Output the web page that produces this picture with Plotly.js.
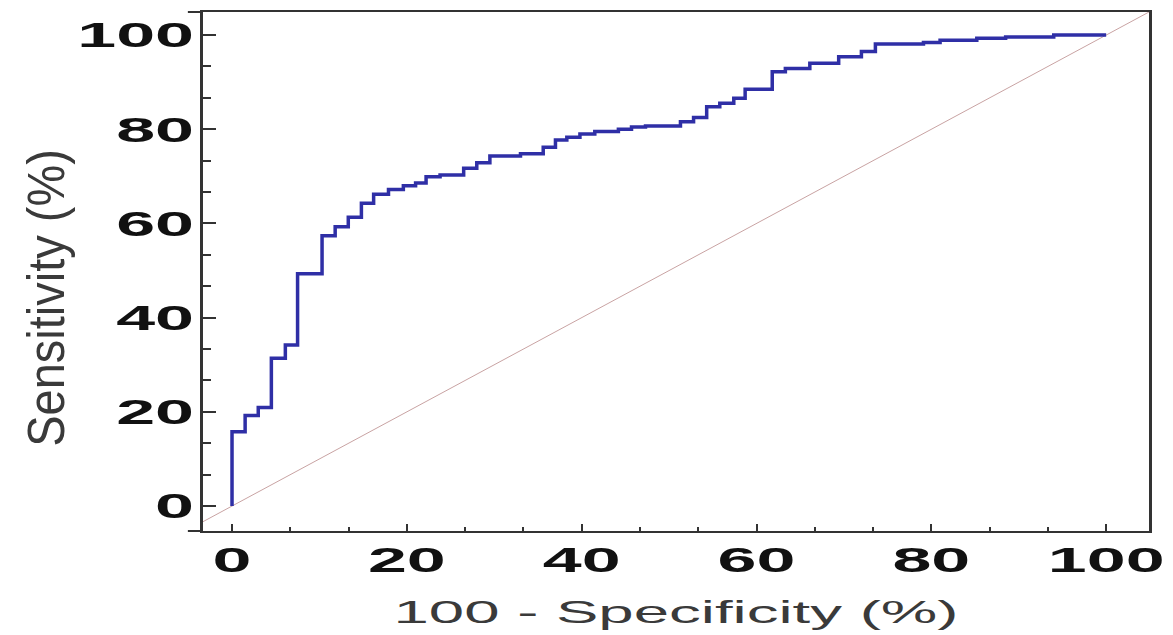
<!DOCTYPE html>
<html>
<head>
<meta charset="utf-8">
<script src="https://cdn.plot.ly/plotly-3.0.1.min.js"></script>
<style>
  html, body { margin: 0; padding: 0; background: #ffffff; }
  #chart { width: 1173px; height: 635px; }
</style>
</head>
<body>
<div id="chart"></div>
<script>
// ROC curve step corners: x = 100 - specificity (%), y = sensitivity (%)
const fpr = [0, 0, 1.5, 3.0, 4.5, 6.1, 7.5, 10.3, 11.8, 13.3, 14.8, 16.2, 17.9, 19.6, 21.0, 22.2,
             23.8, 26.5, 28.0, 29.5, 33.0, 35.6, 37.0, 38.3, 39.8, 41.5, 44.2, 45.7, 47.3, 51.3,
             52.8, 54.3, 55.8, 57.4, 58.7, 61.8, 63.3, 66.1, 69.4, 72.0, 73.6, 79.1, 81.0, 85.2,
             88.5, 94.0, 100];
const tpr = [0, 15.8, 19.2, 20.9, 31.4, 34.2, 49.3, 57.4, 59.3, 61.3, 64.3, 66.2, 67.2, 68.0, 68.6, 69.9,
             70.3, 71.7, 72.9, 74.3, 74.8, 76.2, 77.7, 78.3, 79.0, 79.5, 80.0, 80.5, 80.7, 81.6,
             82.5, 84.8, 85.5, 86.6, 88.5, 92.2, 92.9, 94.0, 95.4, 96.5, 98.1, 98.4, 98.9, 99.3,
             99.6, 100, 100];
// Reference (chance) line
const refX = [-10, 110];
const refY = [-10, 110];
// Axis labels
const xTitle = '100 - Specificity (%)';
const yTitle = 'Sensitivity (%)';

const tickFont = { family: 'Liberation Sans, Arial, sans-serif', size: 35, weight: 'bold', color: '#111111' };
const titleFont = { family: 'Liberation Sans, Arial, sans-serif', size: 31, color: '#3a3a3a' };

const data = [
  { x: refX, y: refY, type: 'scatter', mode: 'lines',
    line: { color: '#c9a3a3', width: 1 }, hoverinfo: 'skip' },
  { x: fpr, y: tpr, type: 'scatter', mode: 'lines',
    line: { color: '#2f2fa6', width: 3.5, shape: 'hv' } }
];

const layout = {
  width: 1173, height: 635,
  margin: { l: 203, r: 24, t: 12, b: 104, pad: 0 },
  paper_bgcolor: '#ffffff', plot_bgcolor: '#ffffff',
  showlegend: false,
  xaxis: {
    range: [-3.32, 104.9], tickmode: 'linear', tick0: 0, dtick: 20,
    ticks: 'inside', ticklen: 7, tickwidth: 2, tickcolor: '#333333',
    showline: true, mirror: true, linewidth: 2, linecolor: '#333333',
    showgrid: false, zeroline: false, tickfont: tickFont,
    ticklabelstandoff: -3,
    minor: { dtick: 20 / 3, ticks: 'inside', ticklen: 4, tickwidth: 2, tickcolor: '#333333', showgrid: false },
    title: { text: xTitle, font: titleFont, standoff: 23 }
  },
  yaxis: {
    range: [-5.3, 104.9], tickmode: 'linear', tick0: 0, dtick: 20,
    ticks: 'inside', ticklen: 13, tickwidth: 2, tickcolor: '#333333',
    showline: true, mirror: true, linewidth: 3, linecolor: '#333333',
    showgrid: false, zeroline: false, tickfont: tickFont,
    ticklabelstandoff: -1,
    minor: { dtick: 20 / 3, ticks: 'inside', ticklen: 8, tickwidth: 2, tickcolor: '#333333', showgrid: false },
    title: { text: yTitle, font: { family: 'Liberation Sans, Arial, sans-serif', size: 47, color: '#3a3a3a' }, standoff: 20 }
  },
  shapes: [
    { type: 'line', xref: 'paper', yref: 'paper', x0: -0.016, x1: 0, y0: 0, y1: 0,
      line: { color: '#333333', width: 2 } },
    { type: 'line', xref: 'paper', yref: 'paper', x0: -0.016, x1: 0, y0: 1, y1: 1,
      line: { color: '#333333', width: 2 } }
  ]
};

// widen text horizontally (the reference picture is horizontally stretched)
function stretch(selector, s, anchor) {
  document.querySelectorAll(selector).forEach(function (t) {
    const b = t.getBBox();
    const ax = anchor === 'end' ? b.x + b.width : b.x + b.width / 2;
    const prev = t.getAttribute('transform') || '';
    t.setAttribute('transform', prev + ' translate(' + ax + ',0) scale(' + s + ',1) translate(' + (-ax) + ',0)');
  });
}
// place the rotated y title at a screen position and widen it
function placeRotated(selector, s, cxTarget, cyTarget) {
  document.querySelectorAll(selector).forEach(function (t) {
    const b = t.getBBox();
    const cy = b.y + b.height / 2;
    const prev = t.getAttribute('transform') || '';
    t.setAttribute('transform', prev + ' translate(0,' + cy + ') scale(1,' + s + ') translate(0,' + (-cy) + ')');
    const svg = t.ownerSVGElement.getBoundingClientRect();
    const r = t.getBoundingClientRect();
    const dx = cxTarget - (r.left - svg.left + r.width / 2);
    const dy = cyTarget - (r.top - svg.top + r.height / 2);
    t.setAttribute('transform', 'translate(' + dx + ',' + dy + ') ' + t.getAttribute('transform'));
  });
}

Plotly.newPlot('chart', data, layout, { staticPlot: true, displayModeBar: false }).then(function () {
  stretch('.xtick text', 2.0, 'center');
  stretch('.ytick text', 2.0, 'end');
  stretch('.g-xtitle text', 2.05, 'center');
  placeRotated('.g-ytitle text', 1.1, 46, 298);
});
</script>
</body>
</html>
